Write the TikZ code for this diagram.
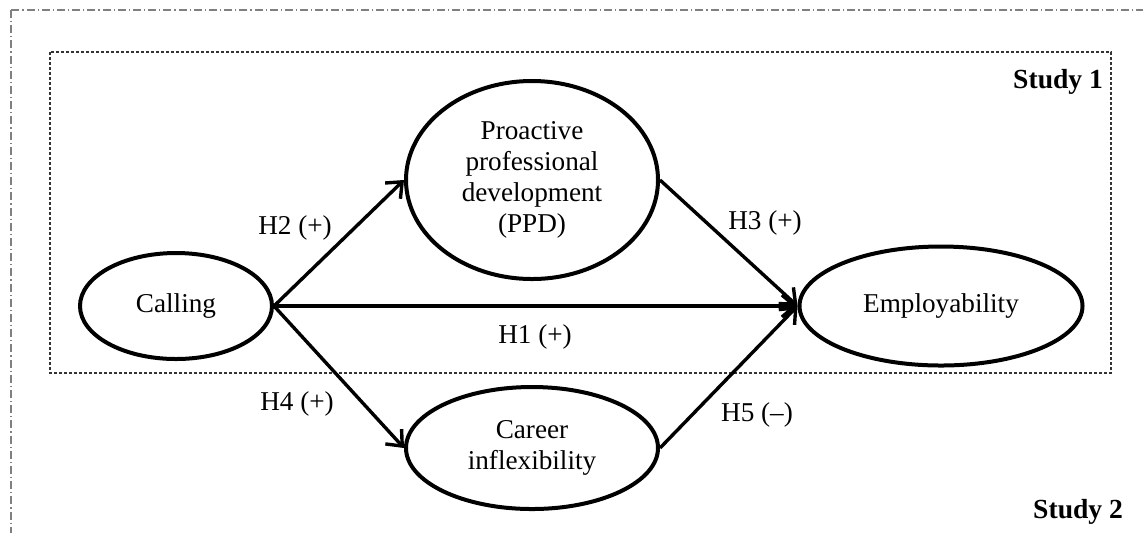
\documentclass[tikz,border=0pt]{standalone}
\usepackage{fontspec}
\setmainfont{Liberation Serif}
\usetikzlibrary{shapes.geometric,arrows.meta}

\begin{document}
\begin{tikzpicture}[x=0.5pt, y=-0.5pt,
    var/.style = {draw, ellipse, line width=2pt, inner sep=0pt, align=center, font=\fontsize{13.6}{15.5}\selectfont},
    hyp/.style = {font=\fontsize{13.6}{15.5}\selectfont},
    path/.style = {-{Straight Barb[length=6.5pt,width=11pt]}, line width=1.7pt},
    study/.style = {anchor=east, font=\fontsize{13.8}{16}\selectfont\bfseries}]
    \useasboundingbox (0,0) rectangle (1143,532);
    \clip (0,0) rectangle (1143,532);
    % frames of the two studies
    \draw[gray, line width=0.7pt, dash pattern=on 4pt off 1.5pt on 0.6pt off 1.5pt] (11,10) rectangle (1160,560);
    \draw[black!80, line width=0.6pt, dash pattern=on 1.5pt off 1pt] (50,52) rectangle (1111,373);
    \node[study] (s1) at (1110,82) {Study 1};
    \node[study] (s2) at (1130,512) {Study 2};
    % variables
    \node[var, minimum width=96pt, minimum height=53pt] (calling) at (176,306) {Calling};
    \node[var, minimum width=126pt, minimum height=99pt] (ppd) at (532,180) {Proactive\\professional\\development\\(PPD)};
    \node[var, minimum width=126pt, minimum height=61pt] (career) at (532,448) {Career\\inflexibility};
    \node[var, minimum width=141.5pt, minimum height=59.5pt] (employ) at (941,306) {Employability};
    % hypotheses
    \draw[path] (calling.east) -- (ppd.west);
    \draw[path] (calling.east) -- (employ.west);
    \draw[path] (calling.east) -- (career.west);
    \draw[path] (ppd.east) -- (employ.west);
    \draw[path] (career.east) -- (employ.west);
    \node[hyp] (h1) at (535,337) {H1 (+)};
    \node[hyp] (h2) at (295,228) {H2 (+)};
    \node[hyp] (h3) at (765,223) {H3 (+)};
    \node[hyp] (h4) at (297,404) {H4 (+)};
    \node[hyp] (h5) at (757,415) {H5 (--)};
\end{tikzpicture}
\end{document}
